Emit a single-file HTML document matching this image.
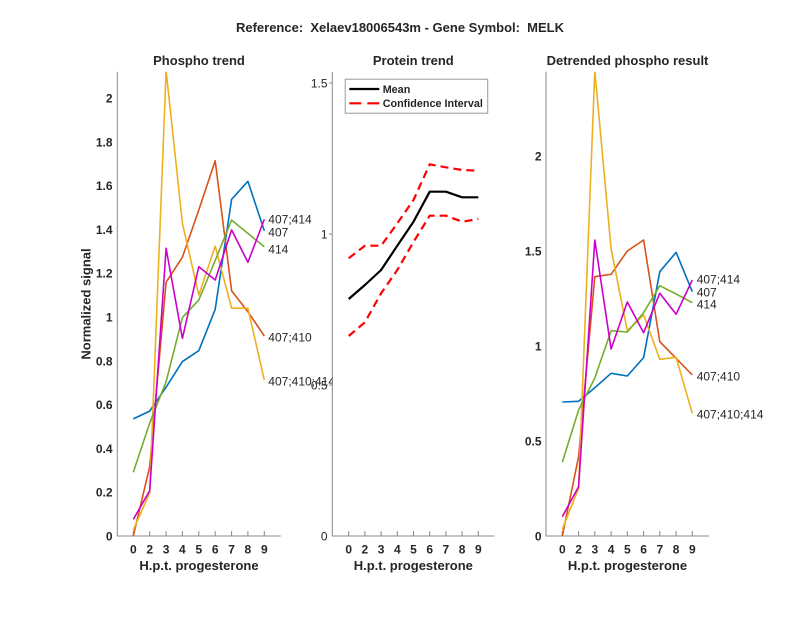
<!DOCTYPE html>
<html>
<head>
<meta charset="utf-8">
<style>
  html, body { margin:0; padding:0; background:#fff; }
  svg { display:block; }
  text { font-family: "Liberation Sans", Arial, sans-serif; fill:#262626; }
  .tb { font-size:12px; font-weight:bold; }
  .tn { font-size:12px; }
  .ttl { font-size:13px; font-weight:bold; }
  .lab { font-size:12px; }
</style>
</head>
<body>
<svg width="800" height="618" viewBox="0 0 800 618" xmlns="http://www.w3.org/2000/svg">
  <defs>
    <clipPath id="cL"><rect x="117.3" y="71.7" width="163.4" height="465.5"/></clipPath>
    <clipPath id="cM"><rect x="332.3" y="72" width="162" height="465"/></clipPath>
    <clipPath id="cR"><rect x="546" y="71.7" width="163" height="465.5"/></clipPath>
  </defs>
  <rect width="800" height="618" fill="#fff"/>

  <!-- Main title -->
  <text class="ttl" x="400" y="32" text-anchor="middle" style="white-space:pre">Reference:  Xelaev18006543m - Gene Symbol:  MELK</text>

  <!-- ================= LEFT PANEL ================= -->
  <text class="ttl" x="199" y="65" text-anchor="middle">Phospho trend</text>
  <g stroke="#888" stroke-width="1" fill="none">
    <line x1="117.3" y1="71.7" x2="117.3" y2="536.5"/>
    <line x1="117.3" y1="536" x2="280.7" y2="536"/>
    <line x1="133.3" y1="536" x2="133.3" y2="531"/>
    <line x1="149.7" y1="536" x2="149.7" y2="531"/>
    <line x1="166.1" y1="536" x2="166.1" y2="531"/>
    <line x1="182.4" y1="536" x2="182.4" y2="531"/>
    <line x1="198.8" y1="536" x2="198.8" y2="531"/>
    <line x1="215.2" y1="536" x2="215.2" y2="531"/>
    <line x1="231.6" y1="536" x2="231.6" y2="531"/>
    <line x1="247.9" y1="536" x2="247.9" y2="531"/>
    <line x1="264.3" y1="536" x2="264.3" y2="531"/>
  </g>
  <g class="tb" text-anchor="end">
    <text x="112.5" y="540.3">0</text>
    <text x="112.5" y="496.5">0.2</text>
    <text x="112.5" y="452.8">0.4</text>
    <text x="112.5" y="409.0">0.6</text>
    <text x="112.5" y="365.3">0.8</text>
    <text x="112.5" y="321.5">1</text>
    <text x="112.5" y="277.7">1.2</text>
    <text x="112.5" y="234.0">1.4</text>
    <text x="112.5" y="190.2">1.6</text>
    <text x="112.5" y="146.5">1.8</text>
    <text x="112.5" y="102.7">2</text>
  </g>
  <g class="tb" text-anchor="middle">
    <text x="133.3" y="553.5">0</text>
    <text x="149.7" y="553.5">2</text>
    <text x="166.1" y="553.5">3</text>
    <text x="182.4" y="553.5">4</text>
    <text x="198.8" y="553.5">5</text>
    <text x="215.2" y="553.5">6</text>
    <text x="231.6" y="553.5">7</text>
    <text x="247.9" y="553.5">8</text>
    <text x="264.3" y="553.5">9</text>
  </g>
  <text class="ttl" x="199" y="570" text-anchor="middle">H.p.t. progesterone</text>
  <text class="ttl" x="0" y="0" text-anchor="middle" transform="translate(90.5,304) rotate(-90)">Normalized signal</text>

  <g clip-path="url(#cL)" fill="none" stroke-width="1.6" stroke-linejoin="round">
    <polyline stroke="#0072BD" points="133.3,418.9 149.7,411.1 166.1,387.2 182.4,361.6 198.8,350.7 215.2,309.3 231.6,199.3 247.9,181.3 264.3,230.8"/>
    <polyline stroke="#D95319" points="133.3,536 149.7,466.6 166.1,282.2 182.4,257.2 198.8,210.0 215.2,160.8 231.6,290.7 247.9,311.7 264.3,336.0"/>
    <polyline stroke="#EDB120" points="133.3,530.1 149.7,492.7 166.1,70.6 182.4,223.3 198.8,295.1 215.2,246.1 231.6,308.2 247.9,308.2 264.3,380.0"/>
    <polyline stroke="#77AC30" points="133.3,472.3 149.7,423.1 166.1,381.7 182.4,317.6 198.8,299.9 215.2,260.5 231.6,220.1 247.9,233.4 264.3,246.7"/>
    <polyline stroke="#CC00CC" points="133.3,519.4 149.7,490.7 166.1,248.3 182.4,338.4 198.8,266.7 215.2,280.0 231.6,229.9 247.9,262.3 264.3,219.4"/>
  </g>
  <g class="lab">
    <text x="268.3" y="223.6">407;414</text>
    <text x="268.3" y="236.6">407</text>
    <text x="268.3" y="253.3">414</text>
    <text x="268.3" y="341.6">407;410</text>
    <text x="268.3" y="385.3">407;410;414</text>
  </g>

  <!-- ================= MIDDLE PANEL ================= -->
  <rect x="332.8" y="72" width="162" height="463.5" fill="#fff"/>
  <text class="ttl" x="413.3" y="65" text-anchor="middle">Protein trend</text>
  <g stroke="#888" stroke-width="1" fill="none">
    <line x1="332.3" y1="72" x2="332.3" y2="536.5"/>
    <line x1="332.3" y1="536" x2="494.3" y2="536"/>
    <line x1="329" y1="83" x2="332.3" y2="83"/>
    <line x1="329" y1="234" x2="332.3" y2="234"/>
    <line x1="329" y1="385" x2="332.3" y2="385"/>
    <line x1="348.7" y1="536" x2="348.7" y2="531"/>
    <line x1="364.9" y1="536" x2="364.9" y2="531"/>
    <line x1="381.1" y1="536" x2="381.1" y2="531"/>
    <line x1="397.3" y1="536" x2="397.3" y2="531"/>
    <line x1="413.5" y1="536" x2="413.5" y2="531"/>
    <line x1="429.7" y1="536" x2="429.7" y2="531"/>
    <line x1="445.9" y1="536" x2="445.9" y2="531"/>
    <line x1="462.1" y1="536" x2="462.1" y2="531"/>
    <line x1="478.3" y1="536" x2="478.3" y2="531"/>
  </g>
  <g class="tn" text-anchor="end">
    <text x="327.5" y="540.3">0</text>
    <text x="327.5" y="389.3">0.5</text>
    <text x="327.5" y="238.3">1</text>
    <text x="327.5" y="87.3">1.5</text>
  </g>
  <g class="tb" text-anchor="middle">
    <text x="348.7" y="553.5">0</text>
    <text x="364.9" y="553.5">2</text>
    <text x="381.1" y="553.5">3</text>
    <text x="397.3" y="553.5">4</text>
    <text x="413.5" y="553.5">5</text>
    <text x="429.7" y="553.5">6</text>
    <text x="445.9" y="553.5">7</text>
    <text x="462.1" y="553.5">8</text>
    <text x="478.3" y="553.5">9</text>
  </g>
  <text class="ttl" x="413.3" y="570" text-anchor="middle">H.p.t. progesterone</text>

  <g clip-path="url(#cM)" fill="none" stroke-linejoin="round">
    <polyline stroke="#000" stroke-width="2.2" points="348.7,299 364.9,285 381.1,270 397.3,245.7 413.5,221.7 429.7,191.7 445.9,191.7 462.1,197.3 478.3,197.3"/>
    <polyline stroke="#FF0000" stroke-width="2.2" stroke-dasharray="8,5" points="348.7,258.3 364.9,245.7 381.1,245.7 397.3,223.3 413.5,200 429.7,164.3 445.9,167.3 462.1,170 478.3,170.7"/>
    <polyline stroke="#FF0000" stroke-width="2.2" stroke-dasharray="8,5" points="348.7,336 364.9,322.3 381.1,293.3 397.3,270 413.5,242 429.7,215.7 445.9,215.7 462.1,221.7 478.3,219"/>
  </g>

  <!-- Legend -->
  <rect x="345.2" y="79.2" width="142.5" height="34" fill="#fff" stroke="#999" stroke-width="1"/>
  <line x1="349.3" y1="89" x2="379.3" y2="89" stroke="#000" stroke-width="2.2"/>
  <line x1="349.3" y1="103.3" x2="379.3" y2="103.3" stroke="#FF0000" stroke-width="2.2" stroke-dasharray="12,6"/>
  <text x="382.7" y="92.8" style="font-size:10.8px;font-weight:bold">Mean</text>
  <text x="382.7" y="107.2" style="font-size:10.8px;font-weight:bold">Confidence Interval</text>

  <!-- ================= RIGHT PANEL ================= -->
  <text class="ttl" x="627.5" y="65" text-anchor="middle">Detrended phospho result</text>
  <g stroke="#888" stroke-width="1" fill="none">
    <line x1="546" y1="71.7" x2="546" y2="536.5"/>
    <line x1="546" y1="536" x2="709" y2="536"/>
    <line x1="562.3" y1="536" x2="562.3" y2="531"/>
    <line x1="578.6" y1="536" x2="578.6" y2="531"/>
    <line x1="594.8" y1="536" x2="594.8" y2="531"/>
    <line x1="611.1" y1="536" x2="611.1" y2="531"/>
    <line x1="627.3" y1="536" x2="627.3" y2="531"/>
    <line x1="643.6" y1="536" x2="643.6" y2="531"/>
    <line x1="659.8" y1="536" x2="659.8" y2="531"/>
    <line x1="676.1" y1="536" x2="676.1" y2="531"/>
    <line x1="692.3" y1="536" x2="692.3" y2="531"/>
  </g>
  <g class="tb" text-anchor="end">
    <text x="541.5" y="540.3">0</text>
    <text x="541.5" y="445.3">0.5</text>
    <text x="541.5" y="350.3">1</text>
    <text x="541.5" y="255.3">1.5</text>
    <text x="541.5" y="160.3">2</text>
  </g>
  <g class="tb" text-anchor="middle">
    <text x="562.3" y="553.5">0</text>
    <text x="578.6" y="553.5">2</text>
    <text x="594.8" y="553.5">3</text>
    <text x="611.1" y="553.5">4</text>
    <text x="627.3" y="553.5">5</text>
    <text x="643.6" y="553.5">6</text>
    <text x="659.8" y="553.5">7</text>
    <text x="676.1" y="553.5">8</text>
    <text x="692.3" y="553.5">9</text>
  </g>
  <text class="ttl" x="627.5" y="570" text-anchor="middle">H.p.t. progesterone</text>

  <g clip-path="url(#cR)" fill="none" stroke-width="1.6" stroke-linejoin="round">
    <polyline stroke="#0072BD" points="562.3,402 578.6,401.3 594.8,387.7 611.1,373.3 627.3,376 643.6,357.7 659.8,271.7 676.1,252.3 692.3,291.7"/>
    <polyline stroke="#D95319" points="562.3,536 578.6,456.7 594.8,276.7 611.1,274.3 627.3,251 643.6,240 659.8,341.7 676.1,358.3 692.3,375"/>
    <polyline stroke="#EDB120" points="562.3,529.3 578.6,488.3 594.8,70.7 611.1,249 627.3,330.7 643.6,315 659.8,359.3 676.1,357.3 692.3,413.3"/>
    <polyline stroke="#77AC30" points="562.3,462.3 578.6,410 594.8,378 611.1,330.7 627.3,332 643.6,312.7 659.8,285.7 676.1,294 692.3,302.7"/>
    <polyline stroke="#CC00CC" points="562.3,516.7 578.6,486.7 594.8,240 611.1,349 627.3,302 643.6,332.7 659.8,293.3 676.1,314.3 692.3,280"/>
  </g>
  <g class="lab">
    <text x="696.7" y="283.6">407;414</text>
    <text x="696.7" y="296.6">407</text>
    <text x="696.7" y="308.6">414</text>
    <text x="696.7" y="380.3">407;410</text>
    <text x="696.7" y="418.6">407;410;414</text>
  </g>
</svg>
</body>
</html>
